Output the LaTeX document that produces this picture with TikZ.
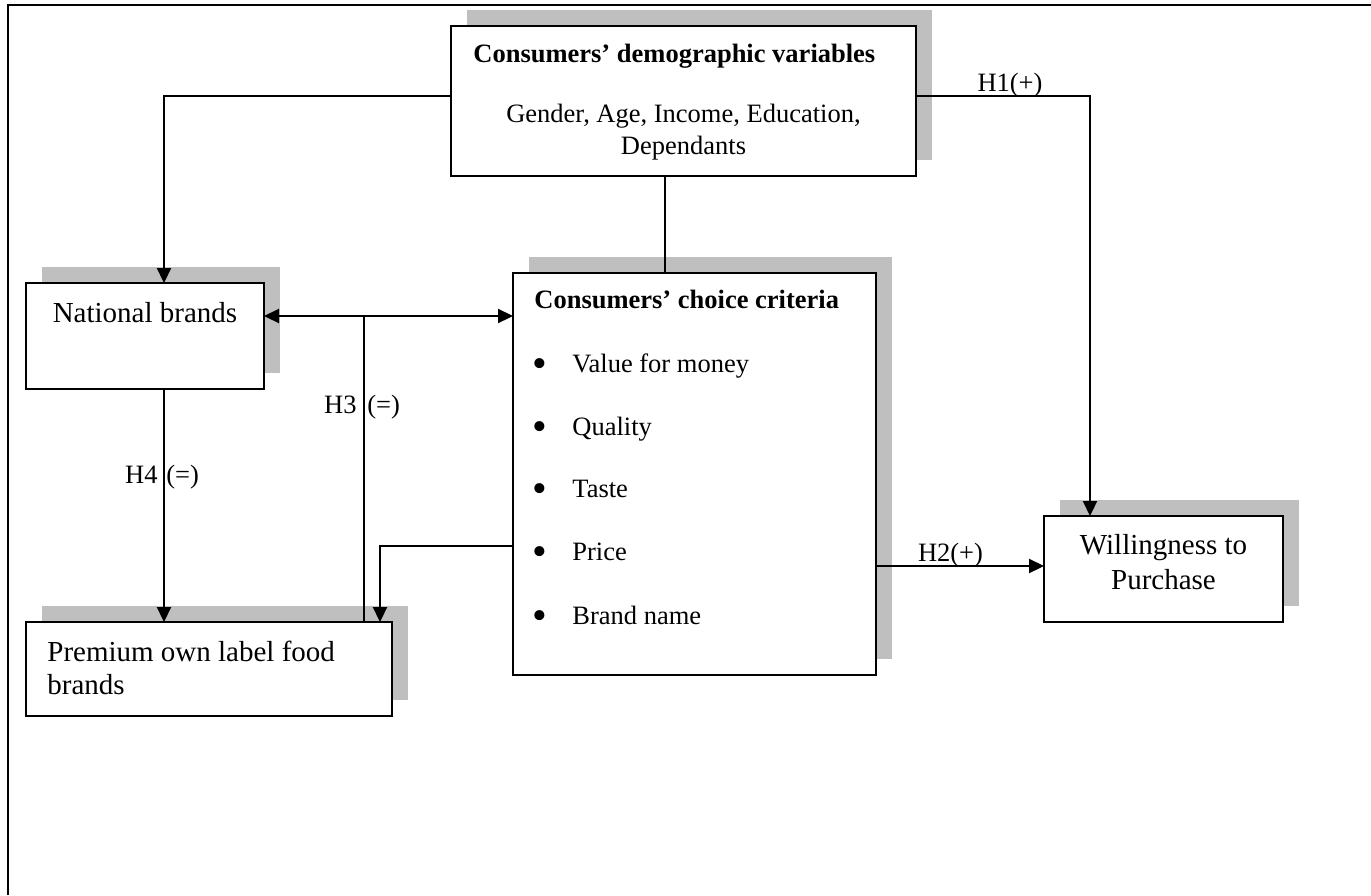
\documentclass[tikz,border=0pt]{standalone}
\usepackage{fontspec}
\setmainfont{Liberation Serif}
\usetikzlibrary{arrows.meta,backgrounds,calc}
\definecolor{shadowc}{RGB}{191,191,191}
\begin{document}
\begin{tikzpicture}[x=0.5pt,y=-0.5pt,
  box/.style={draw=black,line width=1.1pt,fill=white,inner sep=0pt,outer sep=0pt,rectangle},
  conn/.style={line width=1.1pt},
  arr/.style={conn,-{Triangle[length=7.5pt,width=7pt]}},
  darr/.style={conn,{Triangle[length=7.5pt,width=7pt]}-{Triangle[length=7.5pt,width=7pt]}},
  sm/.style={font=\fontsize{13.25pt}{15pt}\selectfont,inner sep=0pt},
  smb/.style={font=\fontsize{13.25pt}{15pt}\selectfont\bfseries,inner sep=0pt},
  bul/.style={font=\fontsize{21pt}{22pt}\selectfont,inner sep=0pt,anchor=base},
  lg/.style={font=\fontsize{14.5pt}{16.5pt}\selectfont,inner sep=0pt}]
\useasboundingbox (0,0) rectangle (1371,895);
\draw[line width=1pt] (8,895) -- (8,5) -- (1371,5);

% boxes
\node[box,minimum width=232.5pt,minimum height=75pt] (demo) at (683.5,101) {};
\node[box,minimum width=119pt,minimum height=53pt] (natl) at (145,336) {};
\node[box,minimum width=183pt,minimum height=47pt] (prem) at (209,669) {};
\node[box,minimum width=181.5pt,minimum height=201pt] (choice) at (694.5,474) {};
\node[box,minimum width=119.5pt,minimum height=53pt] (will) at (1163.5,569) {};

% shadows
\begin{scope}[on background layer]
\foreach \n in {demo,natl,prem,choice,will}
  \fill[shadowc] ([shift={(16,-16)}]\n.south west) rectangle ([shift={(16,-16)}]\n.north east);
\end{scope}

% texts
\node[smb,anchor=base west] (demoT) at (473,62) {Consumers’ demographic variables};
\node[sm,anchor=base] (demoL1) at (683.5,122) {Gender, Age, Income, Education,};
\node[sm,anchor=base] (demoL2) at (683.5,154) {Dependants};
\node[lg,anchor=base] (natlT) at (145,322) {National brands};
\node[lg,anchor=base west] (premL1) at (47,661) {Premium own label food};
\node[lg,anchor=base west] (premL2) at (47,694) {brands};
\node[smb,anchor=base west] (choiceT) at (534,308) {Consumers’ choice criteria};
\node[bul] (b1) at (540,377) {•};
\node[bul] (b2) at (540,440) {•};
\node[bul] (b3) at (540,502) {•};
\node[bul] (b4) at (540,565) {•};
\node[bul] (b5) at (540,629) {•};
\node[sm,anchor=base west] (i1) at (572,372) {Value for money};
\node[sm,anchor=base west] (i2) at (572,435) {Quality};
\node[sm,anchor=base west] (i3) at (572,497) {Taste};
\node[sm,anchor=base west] (i4) at (572,560) {Price};
\node[sm,anchor=base west] (i5) at (572,624) {Brand name};
\node[lg,anchor=base] (willL1) at (1163.5,554) {Willingness to};
\node[lg,anchor=base] (willL2) at (1163.5,589) {Purchase};

% labels
\node[sm,anchor=base] (h1) at (1010,91) {H1(+)};
\node[sm,anchor=base] (h2) at (950.5,561) {H2(+)};
\node[sm,anchor=base east] (h3a) at (357,413) {H3};
\node[sm,anchor=base west] (h3b) at (367,413) {(=)};
\node[sm,anchor=base east] (h4a) at (158,483) {H4};
\node[sm,anchor=base west] (h4b) at (166,483) {(=)};

% connectors
\coordinate (jA) at (164,96);
\draw[arr] (demo.west |- jA) -| (natl.north -| jA);
\coordinate (jB) at (1090,96);
\draw[arr] (demo.east |- jB) -| (will.north -| jB);
\coordinate (jC) at (665,0);
\draw[conn] (demo.south -| jC) -- (choice.north -| jC);
\coordinate (jD) at (364,316);
\draw[darr] (natl.east |- jD) -- (choice.west |- jD);
\draw[conn] (jD) -- (prem.north -| jD);
\coordinate (jE) at (164,0);
\draw[arr] (natl.south -| jE) -- (prem.north -| jE);
\coordinate (jF) at (380,546);
\draw[arr] (choice.west |- jF) -| (prem.north -| jF);
\coordinate (jG) at (0,566);
\draw[arr] (choice.east |- jG) -- (will.west |- jG);
\end{tikzpicture}
\end{document}
